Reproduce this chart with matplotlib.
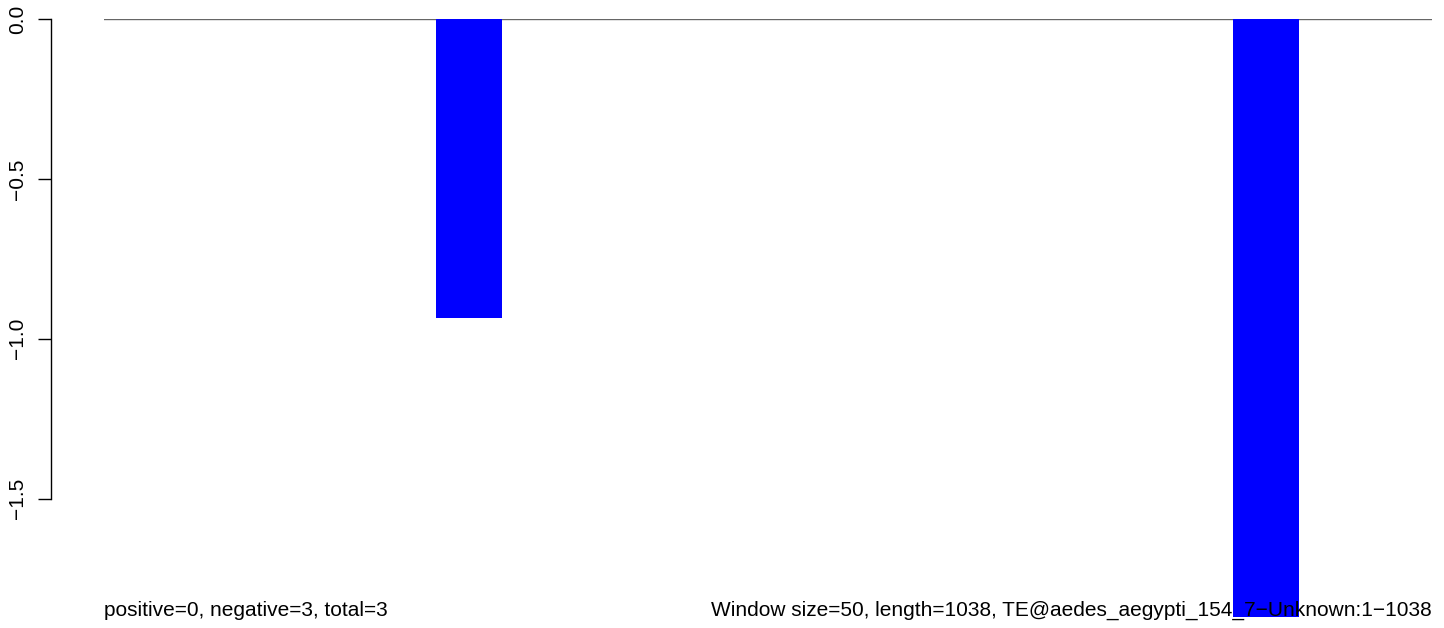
import matplotlib
matplotlib.use("Agg")
import matplotlib.pyplot as plt

# Data: window start positions (bp) and scores
window_starts = [250, 850]
window_size = 50
scores = [-0.934, -1.87]
yticks = [0.0, -0.5, -1.0, -1.5]
ytick_labels = ["0.0", "\u22120.5", "\u22121.0", "\u22121.5"]
left_note = "positive=0, negative=3, total=3"
right_note = "Window size=50, length=1038, TE@aedes_aegypti_154_7\u2212Unknown:1\u22121038"

plt.rcParams['font.family'] = ['Liberation Sans', 'DejaVu Sans']

W, H = 1444, 628
fig = plt.figure(figsize=(W / 100, H / 100), dpi=100)
x0, x1, y0, y1 = 104, 1432, 19, 617
ax = fig.add_axes([x0 / W, 1 - y1 / H, (x1 - x0) / W, (y1 - y0) / H])

ax.bar(window_starts, scores, width=window_size, align='edge', color='#0000ff', linewidth=0, zorder=3)
ax.axhline(0, color='#666666', lw=1.0, zorder=2)

ax.set_xlim(0, 1000)
ax.set_ylim(min(scores), 0)

for s in ['top', 'right', 'bottom']:
    ax.spines[s].set_visible(False)
ax.spines['left'].set_position(('outward', 53 * 0.72))
ax.spines['left'].set_bounds(-1.5, 0)
ax.spines['left'].set_linewidth(1.0)
ax.set_xticks([])
ax.set_yticks(yticks)
ax.set_yticklabels(ytick_labels, rotation=90, va='center', fontsize=15)
ax.tick_params(axis='y', length=9.5, width=1.0, pad=8)

fig.text(x0 / W, 1 - 616 / H, left_note, ha='left', va='baseline', fontsize=15)
fig.text(x1 / W, 1 - 616 / H, right_note, ha='right', va='baseline', fontsize=15)

fig.savefig("out.png", dpi=100)
